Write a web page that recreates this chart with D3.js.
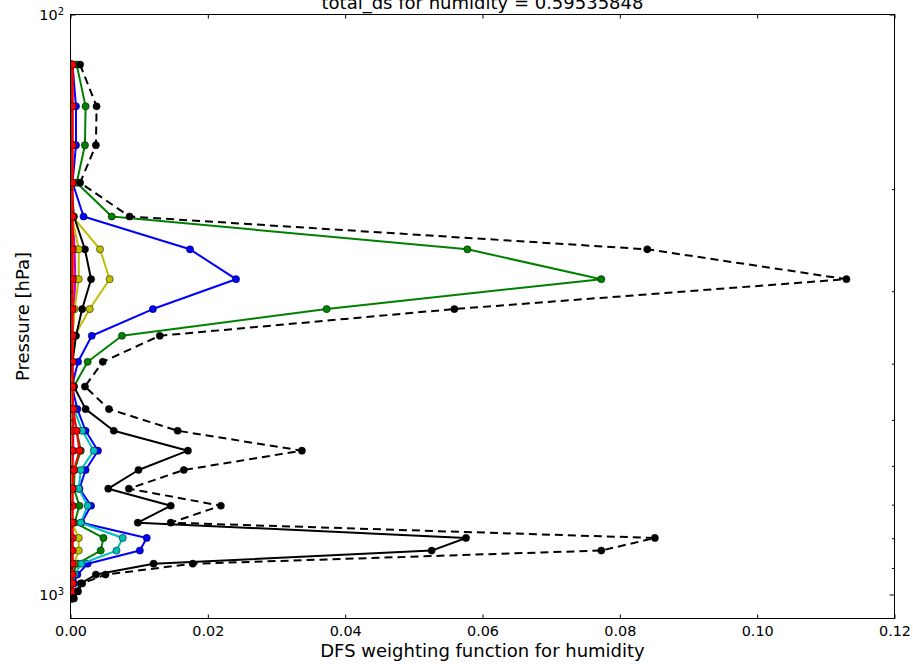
<!DOCTYPE html>
<html>
<head>
<meta charset="utf-8">
<script src="https://cdn.jsdelivr.net/npm/d3@7"></script>
<style>
  html, body { margin: 0; padding: 0; background: #fff; }
  svg { display: block; font-family: "DejaVu Sans", sans-serif; }
</style>
</head>
<body>
<svg id="chart" width="913" height="664"></svg>
<script>
// Model pressure levels [hPa], top to bottom
const pressureLevels = [122, 144, 168, 195, 223, 254, 286, 322, 358, 397, 438, 479, 522,
                        565, 610, 657, 703, 752, 799, 840, 885, 924, 957, 988, 1016];

// Total DFS weighting function (sum over channels)
const totalDfs = [0.0014, 0.0038, 0.0037, 0.0014, 0.0086, 0.0840, 0.1130, 0.0559, 0.0130, 0.0047,
                  0.0021, 0.0056, 0.0156, 0.0337, 0.0165, 0.0085, 0.0219, 0.0146, 0.0851, 0.0773,
                  0.0178, 0.0051, 0.0017, 0.0011, 0.0005];

// Per-channel weighting functions
const chanUpperBlue = [0.0003, 0.0008, 0.0008, 0.0003, 0.0019, 0.0174, 0.0241, 0.0120, 0.0031, 0.0011,
                       0.0002, 0.0001, 0.0001, 0, 0, 0, 0, 0, 0, 0, 0, 0, 0, 0, 0];
const chanUpperGreen = [0.0009, 0.0022, 0.0021, 0.0009, 0.0060, 0.0578, 0.0773, 0.0373, 0.0075, 0.0025,
                        0.0005, 0.0002, 0.0001, 0.0001, 0, 0, 0, 0, 0, 0, 0, 0, 0, 0, 0];
const chanUpperMagenta = [0.0001, 0.0002, 0.0002, 0.0001, 0.0003, 0.0006, 0.0007, 0.0005, 0.0003, 0.0002,
                          0.0002, 0.0003, 0.0004, 0.0004, 0.0002, 0.0001, 0.0001, 0.0001, 0.0001, 0.0001,
                          0, 0, 0, 0, 0];
const chanUpperYellow = [0.0001, 0.0001, 0.0001, 0.0001, 0.0003, 0.0043, 0.0057, 0.0028, 0.0006, 0.0002,
                         0.0001, 0, 0, 0, 0, 0, 0, 0, 0, 0, 0, 0, 0, 0, 0];
const chanUpperBlack = [0, 0, 0, 0.0001, 0.0005, 0.0021, 0.0030, 0.0017, 0.0008, 0.0003,
                        0.0001, 0, 0, 0, 0, 0, 0, 0, 0, 0, 0, 0, 0, 0, 0];
const chanLowerBlue = [0, 0, 0, 0, 0, 0, 0, 0, 0, 0.0001, 0.0002, 0.0010, 0.0022, 0.0040, 0.0022,
                       0.0013, 0.0030, 0.0016, 0.0111, 0.0101, 0.0025, 0.0010, 0.0005, 0.0002, 0.0001];
const chanLowerGreen = [0, 0, 0, 0, 0, 0, 0, 0, 0, 0.0001, 0.0001, 0.0002, 0.0009, 0.0015, 0.0006,
                        0.0005, 0.0013, 0.0006, 0.0048, 0.0044, 0.0010, 0.0003, 0.0001, 0, 0];
const chanLowerCyan = [0, 0, 0, 0, 0, 0, 0, 0, 0, 0.0001, 0.0001, 0.0005, 0.0017, 0.0034, 0.0015,
                       0.0012, 0.0025, 0.0015, 0.0076, 0.0067, 0.0016, 0.0006, 0.0002, 0.0001, 0];
const chanLowerYellow = [0, 0, 0, 0, 0.0002, 0.0012, 0.0012, 0.0006, 0.0003, 0.0002, 0.0001, 0.0001, 0.0001,
                         0.0001, 0.0001, 0.0001, 0.0002, 0.0002, 0.0012, 0.0012, 0.0005, 0.0001, 0, 0, 0];
const chanLowerBlack = [0, 0, 0, 0, 0, 0, 0, 0, 0, 0.0001, 0.0005, 0.0022, 0.0063, 0.0171, 0.0099,
                        0.0055, 0.0146, 0.0098, 0.0576, 0.0526, 0.0121, 0.0037, 0.0015, 0.0008, 0.0003];
const chanRedA = [0.0003, 0.0003, 0.0003, 0.0003, 0.0003, 0.0003, 0.0003, 0.0003, 0.0003, 0.0003,
                  0.0003, 0.0003, 0.0003, 0.0003, 0.0003, 0.0003, 0.0003, 0.0003, 0.0003, 0.0003,
                  0.0003, 0.0003, 0.0003, 0.0003, 0.0003];
const chanRedB = [0.0003, 0.0003, 0.0003, 0.0003, 0.0003, 0.0003, 0.0003, 0.0003, 0.0003, 0.0003,
                  0.0003, 0.0004, 0.0009, 0.0013, 0.0005, 0.0003, 0.0003, 0.0003, 0.0003, 0.0003,
                  0.0003, 0.0003, 0.0003, 0.0003, 0.0003];

// Axis ticks
const xTicks = [0, 0.02, 0.04, 0.06, 0.08, 0.10, 0.12];
const yMajorTicks = [100, 1000];
const yMinorTicks = [200, 300, 400, 500, 600, 700, 800, 900];

const titleText = "total_ds for humidity = 0.59535848";
const xLabel = "DFS weighting function for humidity";
const yLabel = "Pressure [hPa]";

// matplotlib classic colour letters
const C = { b: "#0000ff", g: "#008000", r: "#ff0000", c: "#00bfbf", m: "#bf00bf", y: "#bfbf00", k: "#000000" };

const channels = [
  { values: chanUpperBlue, color: C.b },
  { values: chanUpperGreen, color: C.g },
  { values: chanUpperMagenta, color: C.m },
  { values: chanUpperYellow, color: C.y },
  { values: chanUpperBlack, color: C.k },
  { values: chanLowerBlue, color: C.b },
  { values: chanLowerGreen, color: C.g },
  { values: chanLowerCyan, color: C.c },
  { values: chanLowerYellow, color: C.y },
  { values: chanLowerBlack, color: C.k },
  { values: chanRedA, color: C.r },
  { values: chanRedB, color: C.r }
];

const svg = d3.select("#chart");
const plotL = 70.5, plotR = 894.5, plotT = 14.5, plotB = 618.5;

const x = d3.scaleLinear().domain([0, 0.12]).range([plotL, plotR]);
const y = d3.scaleLog().domain([100, 1100]).range([plotT, plotB]);

svg.append("defs").append("clipPath").attr("id", "plotClip")
  .append("rect").attr("x", plotL).attr("y", plotT)
  .attr("width", plotR - plotL).attr("height", plotB - plotT);

const plot = svg.append("g").attr("clip-path", "url(#plotClip)");

const line = d3.line()
  .x(d => x(d[0]))
  .y(d => y(d[1]));

function drawProfile(values, color, dashed) {
  const pts = values.map((v, i) => [v, pressureLevels[i]]);
  const g = plot.append("g");
  g.append("path")
    .datum(pts)
    .attr("d", line)
    .attr("fill", "none")
    .attr("stroke", color)
    .attr("stroke-width", 2)
    .attr("stroke-linejoin", "round")
    .attr("stroke-dasharray", dashed ? "8,5" : null);
  g.selectAll("circle")
    .data(pts)
    .join("circle")
    .attr("cx", d => x(d[0]))
    .attr("cy", d => y(d[1]))
    .attr("r", 3.6)
    .attr("fill", color)
    .attr("stroke", "#000")
    .attr("stroke-width", 0.5);
}

channels.forEach(c => drawProfile(c.values, c.color, false));
drawProfile(totalDfs, C.k, true);

// Axes
const axisStyle = g => {
  g.select(".domain").remove();
  g.selectAll(".tick line").attr("stroke", "#000").attr("stroke-width", 1);
  g.selectAll(".tick text").attr("fill", "#000").attr("font-size", "14.4px")
    .attr("font-family", "DejaVu Sans, sans-serif");
};

svg.append("g").attr("transform", `translate(0,${plotB})`)
  .call(d3.axisBottom(x).tickValues(xTicks).tickFormat(d3.format(".2f"))
    .tickSizeInner(-4).tickSizeOuter(0).tickPadding(7))
  .call(axisStyle);

svg.append("g").attr("transform", `translate(0,${plotT})`)
  .call(d3.axisTop(x).tickValues(xTicks).tickFormat("")
    .tickSizeInner(-4).tickSizeOuter(0))
  .call(axisStyle);

const yLeft = svg.append("g").attr("transform", `translate(${plotL},0)`)
  .call(d3.axisLeft(y).tickValues(yMajorTicks).tickFormat(d => d)
    .tickSizeInner(-5).tickSizeOuter(0).tickPadding(6.5))
  .call(axisStyle);

yLeft.selectAll(".tick text").each(function (d) {
  const t = d3.select(this);
  t.text(null);
  t.append("tspan").text("10");
  t.append("tspan").attr("dy", "-0.45em").attr("font-size", "10px").text(Math.round(Math.log10(d)));
});

svg.append("g").attr("transform", `translate(${plotL},0)`)
  .call(d3.axisLeft(y).tickValues(yMinorTicks).tickFormat("")
    .tickSizeInner(-2.5).tickSizeOuter(0))
  .call(axisStyle);

svg.append("g").attr("transform", `translate(${plotR},0)`)
  .call(d3.axisRight(y).tickValues(yMajorTicks).tickFormat("")
    .tickSizeInner(-5).tickSizeOuter(0))
  .call(axisStyle);

svg.append("g").attr("transform", `translate(${plotR},0)`)
  .call(d3.axisRight(y).tickValues(yMinorTicks).tickFormat("")
    .tickSizeInner(-2.5).tickSizeOuter(0))
  .call(axisStyle);

// Frame
svg.append("rect")
  .attr("x", plotL).attr("y", plotT)
  .attr("width", plotR - plotL).attr("height", plotB - plotT)
  .attr("fill", "none").attr("stroke", "#000").attr("stroke-width", 1);

// Labels
const cx = (plotL + plotR) / 2;
svg.append("text")
  .attr("x", cx).attr("y", 9)
  .attr("text-anchor", "middle").attr("font-size", "18px").attr("fill", "#000")
  .text(titleText);

svg.append("text")
  .attr("x", cx).attr("y", 657)
  .attr("text-anchor", "middle").attr("font-size", "18px").attr("fill", "#000")
  .text(xLabel);

svg.append("text")
  .attr("transform", `translate(29,${(plotT + plotB) / 2}) rotate(-90)`)
  .attr("text-anchor", "middle").attr("font-size", "18px").attr("fill", "#000")
  .text(yLabel);
</script>
</body>
</html>
